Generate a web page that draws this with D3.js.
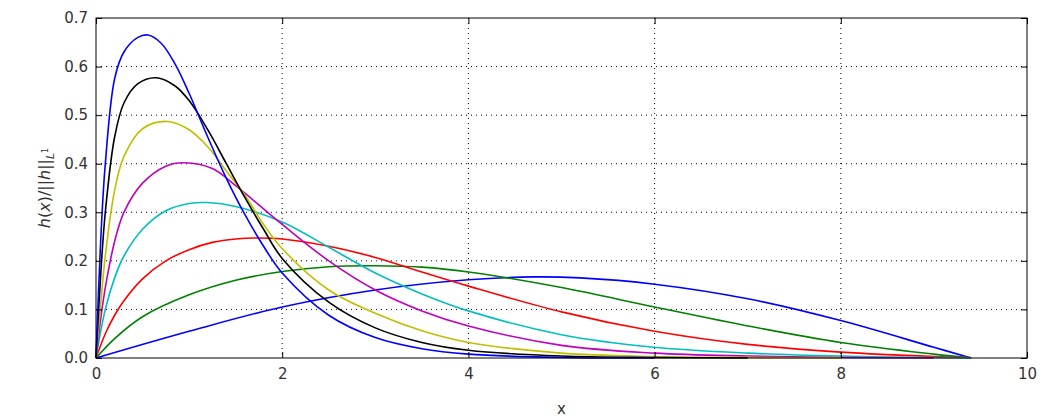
<!DOCTYPE html>
<html>
<head>
<meta charset="utf-8">
<script src="https://cdn.jsdelivr.net/npm/d3@7"></script>
<style>
body { margin: 0; background: #fff; }
text { font-family: "DejaVu Sans", sans-serif; }
</style>
</head>
<body>
<div id="chart"></div>
<script>
// values, one array per curve: [x, y]
const blue1 = [[0,0],[0.05,0.24],[0.1,0.4],[0.2,0.575],[0.3,0.63],[0.45,0.66],[0.56,0.665],[0.7,0.648],[0.85,0.605],[1.0,0.545],[1.2,0.455],[1.4,0.37],[1.6,0.295],[1.8,0.23],[2.0,0.175],[2.5,0.088],[3,0.042],[3.5,0.019],[4,0.008],[5,0.001],[6,0]];
const black = [[0,0],[0.05,0.17],[0.1,0.3],[0.2,0.455],[0.3,0.525],[0.45,0.565],[0.65,0.577],[0.85,0.56],[1.0,0.53],[1.2,0.47],[1.4,0.4],[1.6,0.33],[1.8,0.265],[2.0,0.205],[2.5,0.115],[3,0.062],[3.5,0.032],[4,0.016],[5,0.004],[6,0.001],[7,0]];
const yellow = [[0,0],[0.05,0.11],[0.1,0.21],[0.2,0.345],[0.3,0.415],[0.5,0.472],[0.77,0.487],[1.0,0.47],[1.2,0.435],[1.4,0.385],[1.6,0.335],[1.8,0.275],[2.0,0.225],[2.5,0.14],[3,0.092],[3.5,0.056],[4,0.032],[5,0.01],[6,0.003],[7,0.001],[8,0]];
const magenta = [[0,0],[0.05,0.08],[0.1,0.145],[0.2,0.24],[0.3,0.3],[0.5,0.36],[0.75,0.395],[0.95,0.402],[1.25,0.39],[1.5,0.355],[2.0,0.275],[2.5,0.2],[3,0.14],[3.5,0.097],[4,0.066],[5,0.026],[6,0.01],[7,0.004],[8,0.001],[9,0]];
const cyan = [[0,0],[0.1,0.1],[0.2,0.165],[0.3,0.21],[0.5,0.265],[0.75,0.303],[1.0,0.318],[1.2,0.32],[1.5,0.312],[2.0,0.28],[2.5,0.228],[3,0.175],[3.5,0.132],[4,0.097],[5,0.048],[6,0.022],[7,0.01],[8,0.004],[9,0.001],[9.4,0]];
const red = [[0,0],[0.1,0.05],[0.2,0.088],[0.3,0.118],[0.5,0.163],[0.75,0.2],[1.0,0.223],[1.25,0.238],[1.5,0.245],[1.75,0.247],[2.0,0.245],[2.5,0.23],[3,0.207],[3.5,0.177],[4,0.148],[5,0.095],[6,0.055],[7,0.028],[8,0.012],[9,0.003],[9.4,0.001]];
const green = [[0,0],[0.2,0.04],[0.5,0.085],[1.0,0.13],[1.5,0.16],[2.0,0.178],[2.5,0.188],[3,0.19],[3.5,0.187],[4,0.177],[5,0.145],[6,0.105],[7,0.066],[8,0.032],[9,0.008],[9.4,0]];
const blue2 = [[0,0],[1,0.055],[2,0.105],[3,0.14],[4,0.161],[4.7,0.167],[5.2,0.165],[6,0.152],[7,0.122],[8,0.077],[9,0.022],[9.4,0]];

const series = [blue2, green, red, cyan, magenta, yellow, black, blue1];
const seriesColors = ['#0000ff', '#008000', '#ff0000', '#00bfbf', '#bf00bf', '#bfbf00', '#000000', '#0000ff'];
const xTicks = [0, 2, 4, 6, 8, 10];
const yTicks = [0, 0.1, 0.2, 0.3, 0.4, 0.5, 0.6, 0.7];

const width = 1051, height = 420;
const margins = { left: 96, right: 24, top: 18, bottom: 62 };
const w = width - margins.left - margins.right;
const h = height - margins.top - margins.bottom;

const svg = d3.select('#chart').append('svg')
	.attr('width', width).attr('height', height);
const content = svg.append('g')
	.attr('transform', 'translate(' + margins.left + ',' + margins.top + ')');

const x = d3.scaleLinear().domain([0, 10]).range([0, w]);
const y = d3.scaleLinear().domain([0, 0.7]).range([h, 0]);

// grid
content.append('g').selectAll('line').data(xTicks.slice(1, -1)).enter().append('line')
	.attr('x1', d => x(d)).attr('x2', d => x(d)).attr('y1', 0).attr('y2', h)
	.attr('stroke', '#000').attr('stroke-dasharray', '1,4');
content.append('g').selectAll('line').data(yTicks.slice(1, -1)).enter().append('line')
	.attr('y1', d => y(d)).attr('y2', d => y(d)).attr('x1', 0).attr('x2', w)
	.attr('stroke', '#000').attr('stroke-dasharray', '1,4');

const line = d3.line()
	.x(d => x(d[0])).y(d => y(d[1]))
	.curve(d3.curveCatmullRom.alpha(0.5));

content.selectAll('.curve').data(series).enter().append('path')
	.attr('class', 'curve')
	.attr('d', line)
	.attr('fill', 'none')
	.attr('stroke', (d, i) => seriesColors[i])
	.attr('stroke-width', 1.6);

// axes with inward ticks
const xAxis = content.append('g').attr('transform', 'translate(0,' + h + ')')
	.call(d3.axisBottom(x).tickValues(xTicks).tickFormat(d3.format('d')).tickSizeInner(-6).tickSizeOuter(0).tickPadding(10));
const xTop = content.append('g')
	.call(d3.axisTop(x).tickValues(xTicks).tickFormat('').tickSizeInner(-6).tickSizeOuter(0));
const yAxis = content.append('g')
	.call(d3.axisLeft(y).tickValues(yTicks).tickFormat(d3.format('.1f')).tickSizeInner(-6).tickSizeOuter(0).tickPadding(8));
const yRight = content.append('g').attr('transform', 'translate(' + w + ',0)')
	.call(d3.axisRight(y).tickValues(yTicks).tickFormat('').tickSizeInner(-6).tickSizeOuter(0));
[xAxis, xTop, yAxis, yRight].forEach(a => {
	a.selectAll('text').attr('font-size', 15).attr('fill', '#333').attr('font-family', '"DejaVu Sans", sans-serif');
	a.select('.domain').remove();
});
content.append('rect').attr('width', w).attr('height', h)
	.attr('fill', 'none').attr('stroke', '#000').attr('stroke-width', 1);

svg.append('text')
	.attr('x', margins.left + w / 2).attr('y', 414)
	.attr('text-anchor', 'middle').attr('font-size', 15).attr('fill', '#333')
	.text('x');

const yl = svg.append('text')
	.attr('transform', 'translate(50,' + (margins.top + h / 2) + ') rotate(-90)')
	.attr('text-anchor', 'middle').attr('font-size', 16).attr('fill', '#333')
	.attr('font-family', '"DejaVu Serif", serif');
yl.append('tspan').attr('font-style', 'italic').text('h');
yl.append('tspan').text('(');
yl.append('tspan').attr('font-style', 'italic').text('x');
yl.append('tspan').text(')/||');
yl.append('tspan').attr('font-style', 'italic').text('h');
yl.append('tspan').text('||');
yl.append('tspan').attr('font-style', 'italic').attr('font-size', 11).attr('dy', 4).text('L');
yl.append('tspan').attr('font-size', 8).attr('dy', -6).text('1');
</script>
</body>
</html>
